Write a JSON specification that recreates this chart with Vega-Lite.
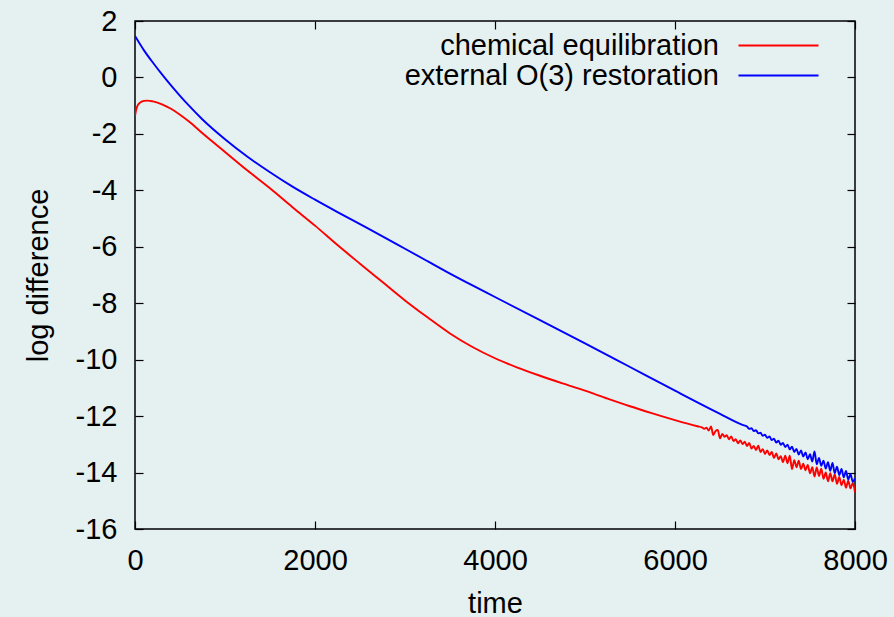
{
  "$schema": "https://vega.github.io/schema/vega-lite/v6.json",
  "width": 720,
  "height": 508,
  "autosize": "none",
  "padding": {"left": 135, "top": 21, "right": 39, "bottom": 88},
  "background": "#e5f0f0",
  "config": {
    "view": {"stroke": "black", "strokeWidth": 1.5},
    "font": "Liberation Sans",
    "axis": {
      "domain": false, "grid": false, "tickSize": -8, "tickColor": "black", "tickWidth": 1.2,
      "labelFont": "Liberation Sans", "labelFontSize": 29, "labelColor": "black", "labelFlush": false, "labelOverlap": false,
      "labelExpr": "'' + datum.value",
      "titleFont": "Liberation Sans", "titleFontSize": 29, "titleFontWeight": "normal", "titleColor": "black"
    }
  },
  "datasets": {
    "curves": [
      {"series": "chemical equilibration", "t": 0, "v": -1.37},
      {"series": "chemical equilibration", "t": 10, "v": -1.18},
      {"series": "chemical equilibration", "t": 25, "v": -1.02},
      {"series": "chemical equilibration", "t": 50, "v": -0.91},
      {"series": "chemical equilibration", "t": 100, "v": -0.83},
      {"series": "chemical equilibration", "t": 140, "v": -0.82},
      {"series": "chemical equilibration", "t": 200, "v": -0.85},
      {"series": "chemical equilibration", "t": 300, "v": -0.95},
      {"series": "chemical equilibration", "t": 400, "v": -1.11},
      {"series": "chemical equilibration", "t": 500, "v": -1.32},
      {"series": "chemical equilibration", "t": 600, "v": -1.56},
      {"series": "chemical equilibration", "t": 750, "v": -1.98},
      {"series": "chemical equilibration", "t": 1000, "v": -2.64},
      {"series": "chemical equilibration", "t": 1250, "v": -3.3},
      {"series": "chemical equilibration", "t": 1500, "v": -3.93},
      {"series": "chemical equilibration", "t": 1750, "v": -4.6},
      {"series": "chemical equilibration", "t": 2000, "v": -5.25},
      {"series": "chemical equilibration", "t": 2250, "v": -5.94},
      {"series": "chemical equilibration", "t": 2500, "v": -6.6},
      {"series": "chemical equilibration", "t": 2750, "v": -7.25},
      {"series": "chemical equilibration", "t": 3000, "v": -7.9},
      {"series": "chemical equilibration", "t": 3250, "v": -8.5},
      {"series": "chemical equilibration", "t": 3500, "v": -9.07},
      {"series": "chemical equilibration", "t": 3750, "v": -9.55},
      {"series": "chemical equilibration", "t": 4000, "v": -9.95},
      {"series": "chemical equilibration", "t": 4250, "v": -10.28},
      {"series": "chemical equilibration", "t": 4500, "v": -10.57},
      {"series": "chemical equilibration", "t": 4750, "v": -10.84},
      {"series": "chemical equilibration", "t": 5000, "v": -11.1},
      {"series": "chemical equilibration", "t": 5250, "v": -11.38},
      {"series": "chemical equilibration", "t": 5500, "v": -11.65},
      {"series": "chemical equilibration", "t": 5750, "v": -11.9},
      {"series": "chemical equilibration", "t": 6000, "v": -12.14},
      {"series": "chemical equilibration", "t": 6250, "v": -12.36},
      {"series": "chemical equilibration", "t": 6300, "v": -12.4},
      {"series": "chemical equilibration", "t": 6325, "v": -12.45},
      {"series": "chemical equilibration", "t": 6350, "v": -12.41},
      {"series": "chemical equilibration", "t": 6375, "v": -12.51},
      {"series": "chemical equilibration", "t": 6400, "v": -12.37},
      {"series": "chemical equilibration", "t": 6425, "v": -12.67},
      {"series": "chemical equilibration", "t": 6450, "v": -12.53},
      {"series": "chemical equilibration", "t": 6475, "v": -12.49},
      {"series": "chemical equilibration", "t": 6500, "v": -12.79},
      {"series": "chemical equilibration", "t": 6525, "v": -12.63},
      {"series": "chemical equilibration", "t": 6550, "v": -12.73},
      {"series": "chemical equilibration", "t": 6575, "v": -12.68},
      {"series": "chemical equilibration", "t": 6600, "v": -12.82},
      {"series": "chemical equilibration", "t": 6625, "v": -12.72},
      {"series": "chemical equilibration", "t": 6650, "v": -12.88},
      {"series": "chemical equilibration", "t": 6675, "v": -12.82},
      {"series": "chemical equilibration", "t": 6700, "v": -12.96},
      {"series": "chemical equilibration", "t": 6725, "v": -12.86},
      {"series": "chemical equilibration", "t": 6750, "v": -12.99},
      {"series": "chemical equilibration", "t": 6775, "v": -12.91},
      {"series": "chemical equilibration", "t": 6800, "v": -13.06},
      {"series": "chemical equilibration", "t": 6825, "v": -12.95},
      {"series": "chemical equilibration", "t": 6850, "v": -13.15},
      {"series": "chemical equilibration", "t": 6875, "v": -13.06},
      {"series": "chemical equilibration", "t": 6900, "v": -13.2},
      {"series": "chemical equilibration", "t": 6925, "v": -13.05},
      {"series": "chemical equilibration", "t": 6950, "v": -13.27},
      {"series": "chemical equilibration", "t": 6975, "v": -13.17},
      {"series": "chemical equilibration", "t": 7000, "v": -13.34},
      {"series": "chemical equilibration", "t": 7025, "v": -13.22},
      {"series": "chemical equilibration", "t": 7050, "v": -13.38},
      {"series": "chemical equilibration", "t": 7075, "v": -13.27},
      {"series": "chemical equilibration", "t": 7100, "v": -13.48},
      {"series": "chemical equilibration", "t": 7125, "v": -13.32},
      {"series": "chemical equilibration", "t": 7150, "v": -13.53},
      {"series": "chemical equilibration", "t": 7175, "v": -13.42},
      {"series": "chemical equilibration", "t": 7200, "v": -13.63},
      {"series": "chemical equilibration", "t": 7225, "v": -13.4},
      {"series": "chemical equilibration", "t": 7250, "v": -13.67},
      {"series": "chemical equilibration", "t": 7275, "v": -13.4},
      {"series": "chemical equilibration", "t": 7300, "v": -13.88},
      {"series": "chemical equilibration", "t": 7325, "v": -13.56},
      {"series": "chemical equilibration", "t": 7350, "v": -13.81},
      {"series": "chemical equilibration", "t": 7375, "v": -13.58},
      {"series": "chemical equilibration", "t": 7400, "v": -13.88},
      {"series": "chemical equilibration", "t": 7425, "v": -13.69},
      {"series": "chemical equilibration", "t": 7450, "v": -13.92},
      {"series": "chemical equilibration", "t": 7475, "v": -13.73},
      {"series": "chemical equilibration", "t": 7500, "v": -14.03},
      {"series": "chemical equilibration", "t": 7525, "v": -13.81},
      {"series": "chemical equilibration", "t": 7550, "v": -14.14},
      {"series": "chemical equilibration", "t": 7575, "v": -13.82},
      {"series": "chemical equilibration", "t": 7600, "v": -14.12},
      {"series": "chemical equilibration", "t": 7625, "v": -13.86},
      {"series": "chemical equilibration", "t": 7650, "v": -14.22},
      {"series": "chemical equilibration", "t": 7675, "v": -14.0},
      {"series": "chemical equilibration", "t": 7700, "v": -14.31},
      {"series": "chemical equilibration", "t": 7725, "v": -14.02},
      {"series": "chemical equilibration", "t": 7750, "v": -14.31},
      {"series": "chemical equilibration", "t": 7775, "v": -14.06},
      {"series": "chemical equilibration", "t": 7800, "v": -14.4},
      {"series": "chemical equilibration", "t": 7825, "v": -14.16},
      {"series": "chemical equilibration", "t": 7850, "v": -14.45},
      {"series": "chemical equilibration", "t": 7875, "v": -14.25},
      {"series": "chemical equilibration", "t": 7900, "v": -14.54},
      {"series": "chemical equilibration", "t": 7925, "v": -14.29},
      {"series": "chemical equilibration", "t": 7950, "v": -14.56},
      {"series": "chemical equilibration", "t": 7975, "v": -14.37},
      {"series": "chemical equilibration", "t": 8000, "v": -14.7},
      {"series": "external O(3) restoration", "t": 0, "v": 1.47},
      {"series": "external O(3) restoration", "t": 100, "v": 0.96},
      {"series": "external O(3) restoration", "t": 200, "v": 0.52},
      {"series": "external O(3) restoration", "t": 300, "v": 0.11},
      {"series": "external O(3) restoration", "t": 400, "v": -0.28},
      {"series": "external O(3) restoration", "t": 500, "v": -0.65},
      {"series": "external O(3) restoration", "t": 600, "v": -1.0},
      {"series": "external O(3) restoration", "t": 750, "v": -1.49},
      {"series": "external O(3) restoration", "t": 1000, "v": -2.19},
      {"series": "external O(3) restoration", "t": 1250, "v": -2.81},
      {"series": "external O(3) restoration", "t": 1500, "v": -3.36},
      {"series": "external O(3) restoration", "t": 1750, "v": -3.87},
      {"series": "external O(3) restoration", "t": 2000, "v": -4.33},
      {"series": "external O(3) restoration", "t": 2250, "v": -4.77},
      {"series": "external O(3) restoration", "t": 2500, "v": -5.2},
      {"series": "external O(3) restoration", "t": 2750, "v": -5.63},
      {"series": "external O(3) restoration", "t": 3000, "v": -6.07},
      {"series": "external O(3) restoration", "t": 3250, "v": -6.51},
      {"series": "external O(3) restoration", "t": 3500, "v": -6.95},
      {"series": "external O(3) restoration", "t": 3750, "v": -7.37},
      {"series": "external O(3) restoration", "t": 4000, "v": -7.78},
      {"series": "external O(3) restoration", "t": 4500, "v": -8.6},
      {"series": "external O(3) restoration", "t": 5000, "v": -9.42},
      {"series": "external O(3) restoration", "t": 5500, "v": -10.26},
      {"series": "external O(3) restoration", "t": 6000, "v": -11.1},
      {"series": "external O(3) restoration", "t": 6500, "v": -11.92},
      {"series": "external O(3) restoration", "t": 6750, "v": -12.31},
      {"series": "external O(3) restoration", "t": 6800, "v": -12.37},
      {"series": "external O(3) restoration", "t": 6825, "v": -12.45},
      {"series": "external O(3) restoration", "t": 6850, "v": -12.43},
      {"series": "external O(3) restoration", "t": 6875, "v": -12.53},
      {"series": "external O(3) restoration", "t": 6900, "v": -12.5},
      {"series": "external O(3) restoration", "t": 6925, "v": -12.61},
      {"series": "external O(3) restoration", "t": 6950, "v": -12.59},
      {"series": "external O(3) restoration", "t": 6975, "v": -12.7},
      {"series": "external O(3) restoration", "t": 7000, "v": -12.66},
      {"series": "external O(3) restoration", "t": 7025, "v": -12.77},
      {"series": "external O(3) restoration", "t": 7050, "v": -12.72},
      {"series": "external O(3) restoration", "t": 7075, "v": -12.85},
      {"series": "external O(3) restoration", "t": 7100, "v": -12.8},
      {"series": "external O(3) restoration", "t": 7125, "v": -12.94},
      {"series": "external O(3) restoration", "t": 7150, "v": -12.87},
      {"series": "external O(3) restoration", "t": 7175, "v": -13.02},
      {"series": "external O(3) restoration", "t": 7200, "v": -12.95},
      {"series": "external O(3) restoration", "t": 7225, "v": -13.1},
      {"series": "external O(3) restoration", "t": 7250, "v": -13.01},
      {"series": "external O(3) restoration", "t": 7275, "v": -13.18},
      {"series": "external O(3) restoration", "t": 7300, "v": -13.08},
      {"series": "external O(3) restoration", "t": 7325, "v": -13.27},
      {"series": "external O(3) restoration", "t": 7350, "v": -13.16},
      {"series": "external O(3) restoration", "t": 7375, "v": -13.36},
      {"series": "external O(3) restoration", "t": 7400, "v": -13.22},
      {"series": "external O(3) restoration", "t": 7425, "v": -13.43},
      {"series": "external O(3) restoration", "t": 7450, "v": -13.29},
      {"series": "external O(3) restoration", "t": 7475, "v": -13.53},
      {"series": "external O(3) restoration", "t": 7500, "v": -13.35},
      {"series": "external O(3) restoration", "t": 7525, "v": -13.61},
      {"series": "external O(3) restoration", "t": 7550, "v": -13.25},
      {"series": "external O(3) restoration", "t": 7575, "v": -13.71},
      {"series": "external O(3) restoration", "t": 7600, "v": -13.48},
      {"series": "external O(3) restoration", "t": 7625, "v": -13.76},
      {"series": "external O(3) restoration", "t": 7650, "v": -13.58},
      {"series": "external O(3) restoration", "t": 7675, "v": -13.86},
      {"series": "external O(3) restoration", "t": 7700, "v": -13.63},
      {"series": "external O(3) restoration", "t": 7725, "v": -13.94},
      {"series": "external O(3) restoration", "t": 7750, "v": -13.66},
      {"series": "external O(3) restoration", "t": 7775, "v": -14.02},
      {"series": "external O(3) restoration", "t": 7800, "v": -13.79},
      {"series": "external O(3) restoration", "t": 7825, "v": -14.09},
      {"series": "external O(3) restoration", "t": 7850, "v": -13.87},
      {"series": "external O(3) restoration", "t": 7875, "v": -14.17},
      {"series": "external O(3) restoration", "t": 7900, "v": -13.94},
      {"series": "external O(3) restoration", "t": 7925, "v": -14.25},
      {"series": "external O(3) restoration", "t": 7950, "v": -14.05},
      {"series": "external O(3) restoration", "t": 7975, "v": -14.33},
      {"series": "external O(3) restoration", "t": 8000, "v": -14.2}
    ]
  },
  "data": {"name": "curves"},
  "layer": [
    {
      "mark": {"type": "line", "strokeWidth": 1.9, "clip": true, "interpolate": "monotone"},
      "encoding": {
        "x": {"field": "t", "type": "quantitative", "scale": {"domain": [0, 8000], "nice": false},
          "axis": {"orient": "bottom", "values": [0, 2000, 4000, 6000, 8000], "title": "time", "labelPadding": 25, "titlePadding": 14}},
        "y": {"field": "v", "type": "quantitative", "scale": {"domain": [-16, 2], "nice": false, "zero": false},
          "axis": {"orient": "left", "values": [-16, -14, -12, -10, -8, -6, -4, -2, 0, 2], "title": "log difference", "labelPadding": 26, "titlePadding": 22}},
        "color": {"field": "series", "type": "nominal",
          "scale": {"domain": ["chemical equilibration", "external O(3) restoration"], "range": ["#ff0000", "#0000ff"]},
          "legend": {"orient": "none", "legendX": 589, "legendY": 10, "title": null, "padding": 0,
            "symbolType": "M0,0H8", "symbolSize": 400, "symbolStrokeWidth": 1.9, "rowPadding": 0,
            "labelFont": "Liberation Sans", "labelFontSize": 29, "labelColor": "black", "labelOffset": 0, "labelLimit": 0,
            "encode": {"labels": {"update": {"align": {"value": "right"}, "dx": {"value": -34}}}}}
        }
      }
    },
    {
      "mark": {"type": "line", "opacity": 0},
      "encoding": {
        "x": {"field": "t", "type": "quantitative",
          "axis": {"orient": "top", "values": [0, 2000, 4000, 6000, 8000], "title": null, "labels": false}},
        "y": {"field": "v", "type": "quantitative",
          "axis": {"orient": "right", "values": [-16, -14, -12, -10, -8, -6, -4, -2, 0, 2], "title": null, "labels": false}}
      }
    }
  ],
  "resolve": {"axis": {"x": "independent", "y": "independent"}}
}
